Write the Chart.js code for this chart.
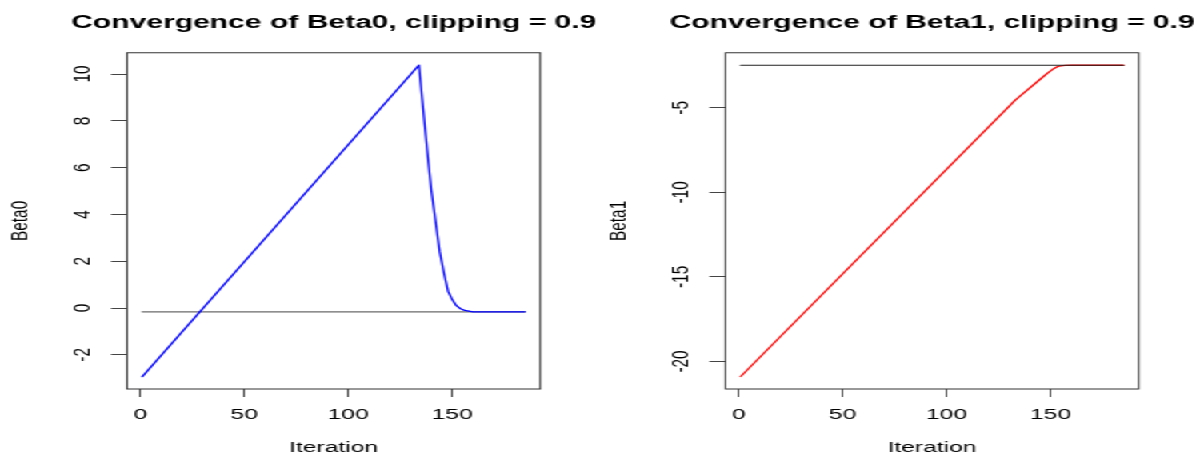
<!DOCTYPE html>
<html>
<head>
<meta charset="utf-8">
<script src="https://cdn.jsdelivr.net/npm/chart.js@4.4.0/dist/chart.umd.min.js"></script>
<style>
html, body { margin: 0; padding: 0; background: #fff; overflow: hidden; }
/* the R plot was stretched sideways, so the whole page is too */
#wrap { width: 748px; height: 455px; display: flex; transform: scaleX(1.6); transform-origin: 0 0; }
canvas { display: block; }
</style>
</head>
<body>
<div id="wrap">
	<canvas id="beta0" width="374" height="455"></canvas>
	<canvas id="beta1" width="374" height="455"></canvas>
</div>
<script>
// iterations / values
const iterFirst = 1;
const iterLast = 185;

const iter0 = [1, 134, 136, 138, 140, 142, 144, 146, 148, 150, 152, 154, 156, 158, 160, 185];
const beta0 = [-2.93, 10.38, 8.54, 6.7, 5.0, 3.7, 2.4, 1.5, 0.72, 0.36, 0.1, -0.03, -0.1, -0.13, -0.16, -0.16];
const beta0True = -0.16;

const iter1 = [1, 133, 147, 149, 151, 153, 155, 157, 160, 185];
const beta1 = [-20.89, -4.54, -3.1, -2.9, -2.72, -2.58, -2.51, -2.485, -2.48, -2.48];
const beta1True = -2.48;

// tick labels
const xTicks = [0, 50, 100, 150];
const yTicks0 = [-2, 0, 2, 4, 6, 8, 10];
const yTicks1 = [-20, -15, -10, -5];

const FONT = "'Liberation Sans', Arial, Helvetica, sans-serif";

const boxPlugin = {
	id: 'rbox',
	afterDraw(chart) {
		const a = chart.chartArea, ctx = chart.ctx;
		ctx.save();
		ctx.strokeStyle = '#333';
		ctx.lineWidth = 1;
		ctx.strokeRect(a.left, a.top, a.right - a.left, a.bottom - a.top);
		ctx.restore();
	}
};

function toPoints(xs, ys) {
	return xs.map((x, i) => ({x: x, y: ys[i]}));
}

function fixTicks(values) {
	return s => { s.ticks = values.map(v => ({value: v})); };
}

function makeChart(id, opt) {
	new Chart(document.getElementById(id), {
		type: 'line',
		data: {
			datasets: opt.datasets
		},
		plugins: [boxPlugin],
		options: {
			responsive: false,
			animation: false,
			devicePixelRatio: 1,
			layout: {padding: {left: 0, right: -43.2, top: 0, bottom: 0}},
			elements: {point: {radius: 0}, line: {tension: 0, borderJoinStyle: 'round', borderCapStyle: 'round'}},
			plugins: {
				legend: {display: false},
				tooltip: {enabled: false},
				title: {
					display: true,
					text: opt.title,
					color: '#000',
					font: {family: FONT, size: 18.8, weight: 'bold'},
					padding: {top: 11.8, bottom: 18.4}
				}
			},
			scales: {
				x: {
					type: 'linear',
					min: -6.36,
					max: 192.36,
					afterBuildTicks: fixTicks(xTicks),
					afterFit: s => { s.height = 66; },
					border: {display: false},
					grid: {drawOnChartArea: false, drawTicks: true, tickLength: 8, tickColor: '#444'},
					ticks: {autoSkip: false, color: '#000', padding: 8.3,
						font: {family: FONT, size: 15.4}, maxRotation: 0},
					title: {display: true, text: 'Iteration', color: '#000',
						font: {family: FONT, size: 15.4}, padding: {top: 0, bottom: -1.5}}
				},
				y: {
					type: 'linear',
					position: 'left',
					min: opt.ymin,
					max: opt.ymax,
					afterBuildTicks: fixTicks(opt.ticks),
					afterFit: s => { s.width = 79.4; },
					border: {display: false},
					grid: {drawOnChartArea: false, drawTicks: true, tickLength: 10, tickColor: '#444'},
					ticks: {autoSkip: false, color: '#000', padding: opt.tickPad,
						minRotation: 90, maxRotation: 90, crossAlign: 'center',
						font: {family: FONT, size: 15.4}},
					title: {display: true, text: opt.ylabel, color: '#000',
						font: {family: FONT, size: 15.4}, padding: {top: 3.3, bottom: 0}}
				},
				pad: {
					type: 'linear',
					position: 'right',
					afterFit: s => { s.width = 79.5; },
					border: {display: false},
					grid: {display: false},
					ticks: {display: false}
				}
			}
		}
	});
}

makeChart('beta0', {
	title: 'Convergence of Beta0, clipping = 0.9',
	ylabel: 'Beta0',
	ymin: -3.46, ymax: 10.91, ticks: yTicks0, tickPad: 9.2,
	datasets: [{
		label: 'Beta0',
		data: toPoints(iter0, beta0),
		borderColor: '#0000ff',
		borderWidth: 1.3
	}, {
		label: 'true',
		data: toPoints([iterFirst, iterLast], [beta0True, beta0True]),
		borderColor: '#6b6b6b',
		borderWidth: 1.3
	}]
});

makeChart('beta1', {
	title: 'Convergence of Beta1, clipping = 0.9',
	ylabel: 'Beta1',
	ymin: -21.63, ymax: -1.74, ticks: yTicks1, tickPad: 6.7,
	datasets: [{
		label: 'true',
		data: toPoints([iterFirst, iterLast], [beta1True, beta1True]),
		borderColor: '#222',
		borderWidth: 1.2
	}, {
		label: 'Beta1',
		data: toPoints(iter1, beta1),
		borderColor: '#ff0000',
		borderWidth: 1.3
	}]
});
</script>
</body>
</html>
